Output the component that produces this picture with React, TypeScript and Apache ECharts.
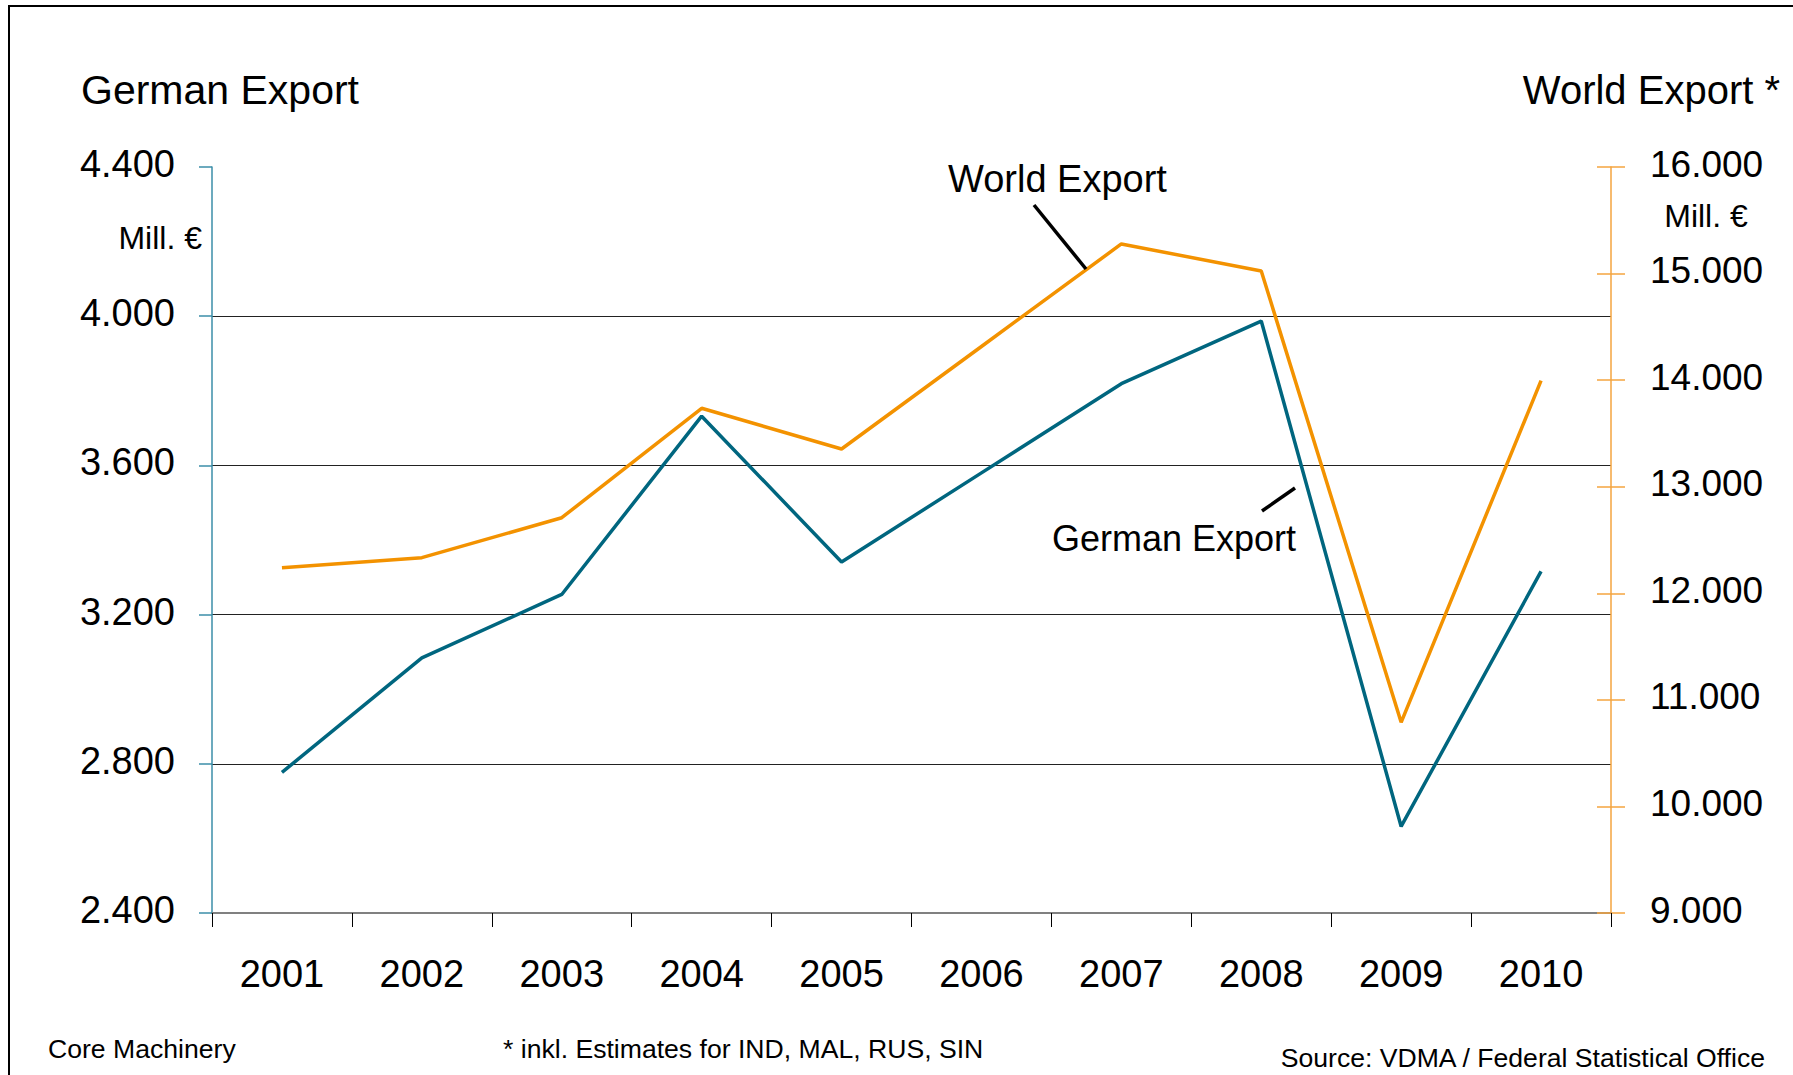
import React, { useEffect, useRef } from "react";
import * as echarts from "echarts";

const years = ["2001", "2002", "2003", "2004", "2005", "2006", "2007", "2008", "2009", "2010"];
const germanExport = [2777, 3084, 3254, 3732, 3341, 3580, 3819, 3987, 2632, 3316];
const worldExport = [12240, 12334, 12709, 13736, 13354, 14316, 15278, 15024, 10789, 13995];

const leftAxisMin = 2400;
const leftAxisMax = 4400;
const leftAxisStep = 400;
const rightAxisMin = 9000;
const rightAxisMax = 16000;
const rightAxisStep = 1000;

const TEAL = "#00667F";
const ORANGE = "#F39200";
const FONT = "'Liberation Sans', Arial, sans-serif";

const fmt = (v: number) => String(v).replace(/\B(?=(\d{3})+(?!\d))/g, ".");

export default function App() {
  const ref = useRef<HTMLDivElement>(null);
  useEffect(() => {
    if (!ref.current) return;
    const chart = echarts.init(ref.current, null, { renderer: "svg" });
    const txt = (text: string, x: number, y: number, size: number, align: string = "left") => ({
      type: "text",
      x,
      y,
      style: { text, fill: "#000", font: `${size}px ${FONT}`, align, verticalAlign: "middle" },
    });
    chart.setOption({
      animation: false,
      backgroundColor: "#fff",
      grid: { left: 212, right: 182, top: 167, bottom: 162, containLabel: false },
      xAxis: {
        type: "category",
        data: years,
        boundaryGap: true,
        axisLine: { show: true, lineStyle: { color: "#808080", width: 2 } },
        axisTick: { show: true, length: 14, lineStyle: { color: "#000", width: 1 } },
        axisLabel: { color: "#000", fontSize: 38, fontFamily: FONT, margin: 42 },
        splitLine: { show: false },
      },
      yAxis: [
        {
          type: "value",
          position: "left",
          min: leftAxisMin,
          max: leftAxisMax,
          interval: leftAxisStep,
          axisLine: { show: true, lineStyle: { color: "#3B8EA8", width: 1.5 } },
          axisTick: { show: true, length: 13, lineStyle: { color: "#3B8EA8", width: 1.5 } },
          axisLabel: {
            color: "#000",
            fontSize: 38,
            fontFamily: FONT,
            margin: 37,
            verticalAlign: "bottom",
            lineHeight: 6,
            formatter: (v: number) => fmt(v),
          },
          splitLine: {
            show: true,
            showMinLine: false,
            showMaxLine: false,
            lineStyle: { color: "#222", width: 1.2 },
          },
        },
        {
          type: "value",
          position: "right",
          min: rightAxisMin,
          max: rightAxisMax,
          interval: rightAxisStep,
          axisLine: { show: true, lineStyle: { color: "#F5A53F", width: 1.5 } },
          axisTick: { show: true, length: 14, lineStyle: { color: "#F5A53F", width: 1.5 } },
          axisLabel: {
            color: "#000",
            fontSize: 37,
            fontFamily: FONT,
            margin: 39,
            verticalAlign: "bottom",
            lineHeight: 6,
            formatter: (v: number) => fmt(v),
          },
          splitLine: { show: false },
        },
        {
          type: "value",
          position: "right",
          min: rightAxisMin,
          max: rightAxisMax,
          interval: rightAxisStep,
          axisLine: { show: false },
          axisTick: { show: true, inside: true, length: 14, lineStyle: { color: "#F5A53F", width: 1.5 } },
          axisLabel: { show: false },
          splitLine: { show: false },
        },
      ],
      series: [
        {
          name: "World Export",
          type: "line",
          yAxisIndex: 1,
          data: worldExport,
          symbol: "none",
          lineStyle: { color: ORANGE, width: 3.5 },
          itemStyle: { color: ORANGE },
          z: 3,
        },
        {
          name: "German Export",
          type: "line",
          yAxisIndex: 0,
          data: germanExport,
          symbol: "none",
          lineStyle: { color: TEAL, width: 3.5 },
          itemStyle: { color: TEAL },
          z: 4,
        },
      ],
      graphic: [
        {
          type: "rect",
          shape: { x: 9, y: 6, width: 1820, height: 1120 },
          style: { fill: "none", stroke: "#000", lineWidth: 2 },
          silent: true,
        },
        txt("German Export", 81, 90, 41),
        txt("World Export *", 1780, 90, 40, "right"),
        txt("Mill. €", 202, 238, 32, "right"),
        txt("Mill. €", 1706, 216, 32, "center"),
        txt("World Export", 948, 179, 38),
        {
          type: "line",
          shape: { x1: 1034, y1: 205, x2: 1086, y2: 269 },
          style: { stroke: "#000", lineWidth: 3.5 },
          z: 10,
        },
        txt("German Export", 1052, 538, 36),
        {
          type: "line",
          shape: { x1: 1262, y1: 511, x2: 1295, y2: 488 },
          style: { stroke: "#000", lineWidth: 3.5 },
          z: 10,
        },
        txt("Core Machinery", 48, 1049, 26.6),
        txt("* inkl. Estimates for IND, MAL, RUS, SIN", 503, 1049, 26.6),
        txt("Source: VDMA / Federal Statistical Office", 1765, 1058, 26.6, "right"),
      ],
    });
    return () => chart.dispose();
  }, []);
  return <div ref={ref} style={{ position: "absolute", left: 0, top: 0, width: 1793, height: 1075 }} />;
}
